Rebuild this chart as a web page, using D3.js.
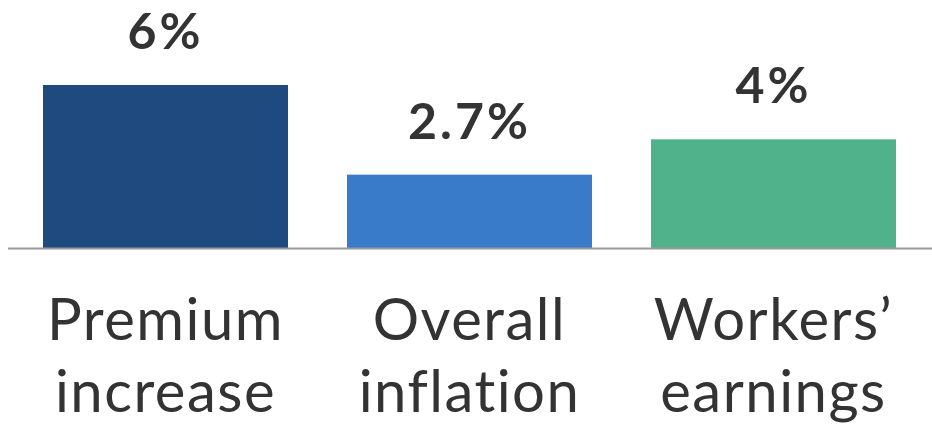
<!DOCTYPE html>
<meta charset="utf-8">
<title>Premiums vs inflation and earnings</title>
<style>
body { margin: 0; background: #fff; }
text { font-family: Lato, "Open Sans", sans-serif; fill: #333; font-variant-ligatures: none; }
</style>
<body>
<script src="https://d3js.org/d3.v7.min.js"></script>
<script>

var categories = ["Premium increase", "Overall inflation", "Workers’ earnings"];
var values = [6, 2.7, 4];
var valueLabels = ["6%", "2.7%", "4%"];
var colors = ["#1f4a7f", "#3a7bc9", "#4fb28a"];

var svg = d3.select("body")
  .append("svg")
  .attr("width", 932)
  .attr("height", 435);

var base = 248;

var x = d3.scaleBand()
    .domain(categories)
    .range([13.5, 925.5])
    .paddingInner(0.194)
    .paddingOuter(0.097);

var y = d3.scaleLinear()
    .domain([0, 6])
    .range([base, 85]);

svg.selectAll("rect.bar")
  .data(values)
  .enter().append("rect")
    .attr("class", "bar")
    .attr("x", function(d, i) { return x(categories[i]); })
    .attr("y", function(d) { return y(d); })
    .attr("width", x.bandwidth())
    .attr("height", function(d) { return base - y(d); })
    .attr("fill", function(d, i) { return colors[i]; });

// baseline
svg.append("line")
    .attr("x1", 8)
    .attr("x2", 932)
    .attr("y1", base + 0.5)
    .attr("y2", base + 0.5)
    .attr("stroke", "#9a9a9a")
    .attr("stroke-width", 2);

svg.selectAll("text.value")
  .data(values)
  .enter().append("text")
    .attr("class", "value")
    .attr("x", function(d, i) { return x(categories[i]) + x.bandwidth() / 2; })
    .attr("y", function(d) { return y(d) - 36; })
    .attr("text-anchor", "middle")
    .style("font-size", "50px")
    .style("font-weight", 700)
    .style("letter-spacing", "3px")
    .text(function(d, i) { return valueLabels[i]; });

var cat = svg.selectAll("text.cat")
  .data(categories)
  .enter().append("text")
    .attr("class", "cat")
    .attr("x", function(d) { return x(d) + x.bandwidth() / 2; })
    .attr("y", 340)
    .attr("text-anchor", "middle")
    .style("font-size", "58px")
    .style("letter-spacing", "1.5px");

cat.selectAll("tspan")
  .data(function(d) { return d.split(" "); })
  .enter().append("tspan")
    .attr("x", function() { return d3.select(this.parentNode).attr("x"); })
    .attr("dy", function(d, i) { return i ? 72 : 0; })
    .text(function(d) { return d; });

</script>
</body>
